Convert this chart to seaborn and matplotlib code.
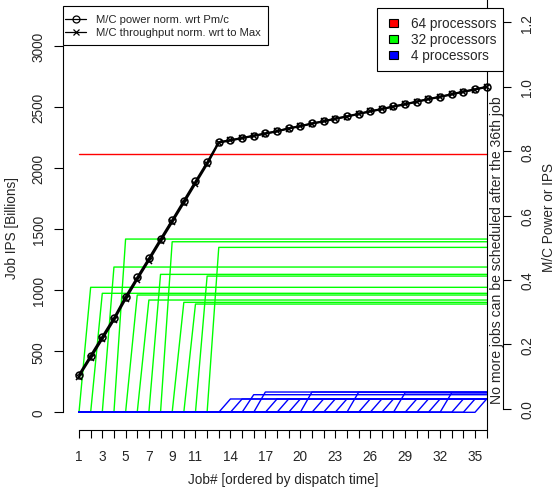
import numpy as np
import pandas as pd
import matplotlib
matplotlib.use("Agg")
import matplotlib.pyplot as plt
import seaborn as sns
from matplotlib.patches import Rectangle
from matplotlib.lines import Line2D

sns.set_style("ticks")
plt.rcParams['font.family'] = ['Liberation Sans', 'DejaVu Sans']

# ---------------- data ----------------
job_no = list(range(1, 37))
xtick_labels = [1, 3, 5, 7, 9, 11, 14, 17, 20, 23, 26, 29, 32, 35]

red_dispatch = [0]
red_levels = [2113]
green_dispatch = list(range(1, 13))
green_levels = [1023, 974, 1189, 1418, 960, 919, 1129, 1396, 900, 886, 1115, 1350]
blue_dispatch = list(range(13, 36))
blue_levels = [109, 109, 144, 166, 109, 109, 109, 166, 109, 109, 109, 163,
               109, 109, 109, 160, 109, 109, 109, 160, 109, 109, 109]

power_norm = [0.106, 0.165, 0.224, 0.282, 0.348, 0.408, 0.467, 0.527, 0.586,
              0.646, 0.706, 0.765, 0.828, 0.834, 0.841, 0.848, 0.855, 0.862,
              0.871, 0.878, 0.886, 0.893, 0.901, 0.908, 0.916, 0.924, 0.931,
              0.939, 0.946, 0.954, 0.962, 0.969, 0.977, 0.985, 0.992, 1.000]
throughput_norm = [0.100, 0.158, 0.216, 0.275, 0.340, 0.401, 0.460, 0.520, 0.579,
                   0.639, 0.699, 0.759, 0.826, 0.833, 0.840, 0.847, 0.854, 0.861,
                   0.870, 0.877, 0.885, 0.892, 0.900, 0.907, 0.915, 0.923, 0.930,
                   0.938, 0.945, 0.953, 0.961, 0.968, 0.976, 0.984, 0.991, 0.999]

# ---------------- build long table ----------------
rows = []
jid = 0
for grp, disp, levs in (("64", red_dispatch, red_levels),
                        ("32", green_dispatch, green_levels),
                        ("4", blue_dispatch, blue_levels)):
    for d, L in zip(disp, levs):
        for x in job_no:
            rows.append({"job": jid, "proc": grp, "x": x, "ips": L if x > d else 0})
        jid += 1
jobs = pd.DataFrame(rows)
norm = pd.DataFrame({"x": job_no, "power": power_norm, "thr": throughput_norm})

FS = 9.8

# ---------------- figure ----------------
W, H = 558, 489
fig = plt.figure(figsize=(W / 100, H / 100), dpi=100)
def fx(p): return p / W
def fy(p): return 1 - p / H

ax = fig.add_axes([fx(63), fy(431), 440 / W, 431 / H])
ax.patch.set_alpha(0)

pal = {"64": "#FF0000", "32": "#00FF00", "4": "#0000FF"}
sns.lineplot(data=jobs, x="x", y="ips", hue="proc", units="job", estimator=None,
             hue_order=["64", "32", "4"], palette=pal, lw=1.0, legend=False,
             sort=False, ax=ax)

px_per_x = 11.647
ax.set_xlim(1 + (63 - 79) / px_per_x, 1 + (503 - 79) / px_per_x)
ax.set_ylim((413.3 - 431) / 0.12217, 413.3 / 0.12217)

ax.axvline(36, color="black", lw=0.8)
ax.text(36.9, 76, "No more jobs can be scheduled after the 36th job", rotation=90,
        ha="center", va="bottom", fontsize=10.1)

# right axis with normalized power / throughput
ax2 = ax.twinx()
sns.lineplot(data=norm, x="x", y="power", color="black", lw=1.4, marker="o",
             markersize=5, markerfacecolor="none", markeredgecolor="black",
             markeredgewidth=1.1, ax=ax2)
sns.lineplot(data=norm, x="x", y="thr", color="black", lw=1.4, marker="x",
             markersize=5, markeredgecolor="black", markeredgewidth=1.1, ax=ax2)
ax2.set_ylim((409.7 - 431) / 322, 409.7 / 322)
ax2.set_xlim(ax.get_xlim())

# ---- left / bottom axis styling
for s in ("top", "right"):
    ax.spines[s].set_visible(False)
ax.spines["left"].set_bounds(0, 3000)
ax.spines["bottom"].set_bounds(1, 36)
for s in ("left", "bottom"):
    ax.spines[s].set_color("black")
    ax.spines[s].set_linewidth(0.8)
ax.set_xticks(job_no)
ax.set_xticklabels([str(v) if v in xtick_labels else "" for v in job_no])
ax.set_yticks(range(0, 3001, 500))
ax.set_yticklabels([str(v) for v in range(0, 3001, 500)])
ax.xaxis.set_ticks_position("bottom")
ax.yaxis.set_ticks_position("left")
ax.tick_params(axis="x", which="major", bottom=True, direction="out", length=5.5,
               width=0.8, pad=8.0, labelsize=FS, color="black")
ax.tick_params(axis="y", which="major", left=True, right=False, direction="out",
               length=6.5, width=0.8, pad=6.0, labelsize=FS, color="black",
               labelrotation=90)
for t in ax.get_yticklabels():
    t.set_va("center")
ax.set_xlabel("Job# [ordered by dispatch time]", fontsize=FS)
ax.set_ylabel("Job IPS [Billions]", fontsize=FS, va="center")
ax.xaxis.set_label_coords((0.5 * (79 + 486.6) - 63) / 440, -(480 - 431) / 431)
ax.xaxis.label.set_va("center")
ax.yaxis.set_label_coords((12 - 63) / 440, (431 - 228) / 431)

# ---- right axis styling
for s in ("top", "left", "bottom"):
    ax2.spines[s].set_visible(False)
ax2.spines["right"].set_bounds(0, 1.2)
ax2.spines["right"].set_color("black")
ax2.spines["right"].set_linewidth(0.8)
rt = [0.0, 0.2, 0.4, 0.6, 0.8, 1.0, 1.2]
ax2.set_yticks(rt)
ax2.set_yticklabels([f"{v:.1f}" for v in rt])
ax2.yaxis.set_ticks_position("right")
ax2.tick_params(axis="y", which="major", right=True, left=False, direction="out",
                length=5.8, width=0.8, pad=6.5, labelsize=FS, color="black",
                labelrotation=90)
ax2.tick_params(axis="x", bottom=False, top=False, labelbottom=False)
for t in ax2.get_yticklabels():
    t.set_va("center")
ax2.set_xlabel("")
ax2.set_ylabel("M/C Power or IPS", fontsize=FS, va="center")
ax2.yaxis.set_label_coords((549 - 63) / 440, (431 - 218) / 431)

# ---------------- legends ----------------
tf = fig.transFigure
fig.add_artist(Rectangle((fx(63.3), fy(46)), (267.7 - 63.3) / W, (46 - 7.3) / H,
                         transform=tf, fill=True, facecolor="white",
                         edgecolor="black", lw=0.8, zorder=5))
for yy, mk, lab in ((20, "o", "M/C power norm. wrt Pm/c"),
                    (33, "x", "M/C throughput norm. wrt to Max")):
    fig.add_artist(Line2D([fx(65), fx(86)], [fy(yy), fy(yy)], transform=tf,
                          color="black", lw=0.9, zorder=6))
    fig.add_artist(Line2D([fx(75.5)], [fy(yy)], transform=tf, marker=mk,
                          markersize=5, markerfacecolor="none",
                          markeredgecolor="black", markeredgewidth=0.9, zorder=6))
    fig.text(fx(96), fy(yy), lab, fontsize=8.1, va="center", ha="left", zorder=6)

fig.add_artist(Rectangle((fx(376.7), fy(72.3)), (502.7 - 376.7) / W, (72.3 - 9.3) / H,
                         transform=tf, fill=True, facecolor="white",
                         edgecolor="black", lw=0.8, zorder=5))
for yy, col, lab in ((23.7, "#FF0000", "64 processors"),
                     (39.7, "#00FF00", "32 processors"),
                     (55.7, "#0000FF", "4 processors")):
    fig.add_artist(Rectangle((fx(388.5), fy(yy + 4)), 10 / W, 8 / H, transform=tf,
                             facecolor=col, edgecolor="black", lw=0.8, zorder=6))
    fig.text(fx(410.7), fy(yy), lab, fontsize=FS, va="center", ha="left", zorder=6)

fig.savefig("out.png", dpi=100)
